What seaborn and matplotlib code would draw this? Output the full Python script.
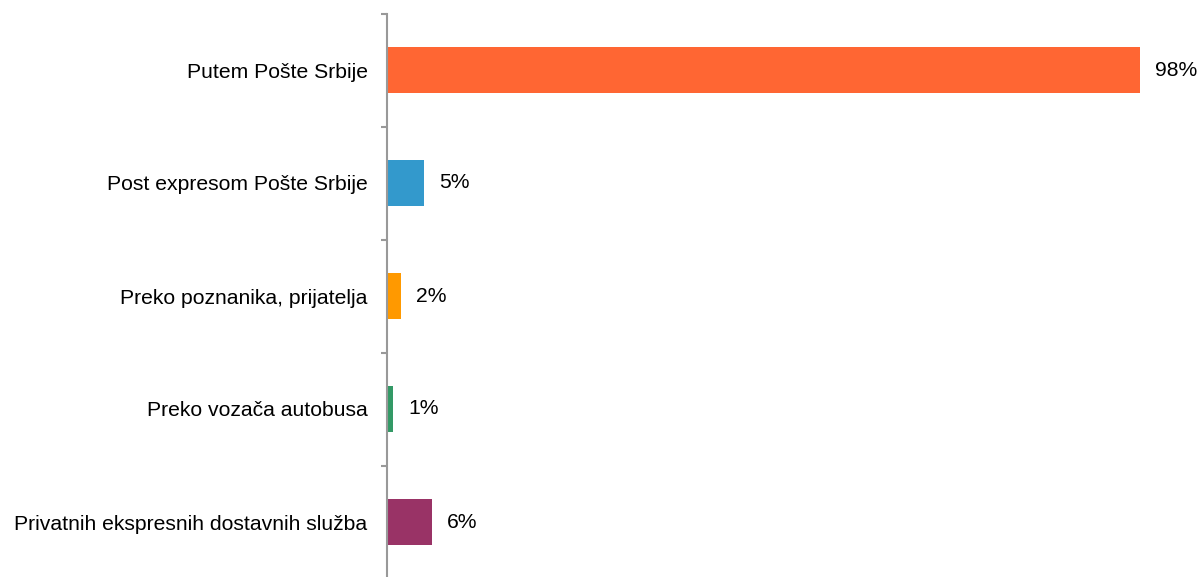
import numpy as np
import pandas as pd
import seaborn as sns
import matplotlib.pyplot as plt

categories = [
    "Putem Pošte Srbije",
    "Post expresom Pošte Srbije",
    "Preko poznanika, prijatelja",
    "Preko vozača autobusa",
    "Privatnih ekspresnih dostavnih služba",
]
values = [98, 4.8, 1.8, 0.8, 5.8]
value_labels = ["98%", "5%", "2%", "1%", "6%"]
colors = ["#FF6633", "#3399CC", "#FF9900", "#339966", "#993366"]

sns.set_style("white")
plt.rcParams["font.family"] = ["Liberation Sans", "DejaVu Sans"]

df = pd.DataFrame({"cat": categories, "val": values})

fig = plt.figure(figsize=(12.03, 5.77), dpi=100)
ax = fig.add_axes([387 / 1203, -1.5 / 577, 768 / 1203, 565 / 577])

sns.barplot(data=df, x="val", y="cat", hue="cat", palette=colors,
            orient="h", width=0.41, legend=False, ax=ax, saturation=1,
            linewidth=0)

ax.set_xlim(0, 100)
ax.set_ylim(len(categories) - 0.5, -0.5)
ax.set_xlabel("")
ax.set_ylabel("")
ax.set_xticks([])

for s in ["top", "right", "bottom"]:
    ax.spines[s].set_visible(False)
ax.spines["left"].set_color("#999999")
ax.spines["left"].set_linewidth(1.5)

ax.tick_params(axis="y", which="major", left=False, length=0, pad=14,
               labelsize=15.2, labelcolor="black")
ax.set_yticks(np.arange(len(categories) + 1) - 0.5, minor=True)
ax.tick_params(axis="y", which="minor", left=True, direction="out",
               length=4, width=1.5, color="#999999")

for i, (v, lab) in enumerate(zip(values, value_labels)):
    ax.annotate(lab, xy=(v, i), xytext=(11, 0), textcoords="offset points",
                va="center", ha="left", fontsize=15.2, color="black",
                annotation_clip=False)

fig.savefig("out.png", dpi=100)
